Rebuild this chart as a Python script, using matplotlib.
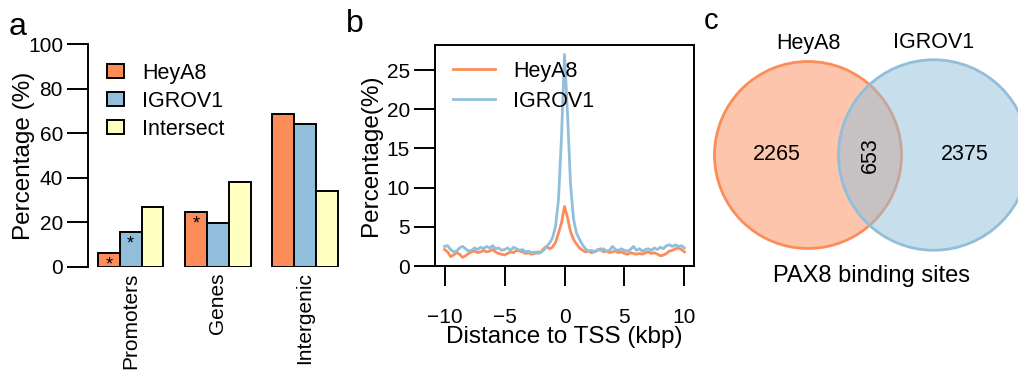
import numpy as np
import matplotlib
matplotlib.use("Agg")
import matplotlib.pyplot as plt
from matplotlib.patches import Circle

plt.rcParams['font.family'] = ['Liberation Sans', 'DejaVu Sans']

# ---------------- data ----------------
regions = ["Promoters", "Genes", "Intergenic"]
series_names = ["HeyA8", "IGROV1", "Intersect"]
heya8_pct = [6.3, 24.8, 68.5]
igrov1_pct = [15.7, 19.6, 64.2]
intersect_pct = [27.0, 38.2, 34.0]
# significance marks (series index, region index)
star_marks = [(0, 0), (1, 0), (0, 1)]

# TSS profile (x from -10 to 10 kbp, 0.25 kbp steps)
tss_heya8 = [2.1, 1.8, 1.2, 1.4, 1.7, 1.5, 1.1, 1.3, 1.6, 1.8, 1.9, 1.7, 1.8, 2.0, 1.8, 1.9,
             2.1, 1.8, 1.6, 1.5, 1.4, 1.6, 1.8, 1.7, 2.0, 1.9, 1.8, 1.6, 1.7, 1.5, 1.6, 1.8,
             1.7, 2.2, 2.5, 2.2, 2.4, 3.0, 4.2, 5.5, 7.6, 6.2, 4.4, 3.4, 2.8, 2.3, 2.0, 1.8,
             1.9, 1.7, 1.8, 2.0, 2.2, 1.8, 1.9, 1.7, 1.8, 1.9, 1.7, 1.8, 1.6, 1.5, 1.7, 1.6,
             1.5, 1.6, 1.5, 1.7, 1.8, 1.6, 1.7, 1.5, 1.3, 1.4, 1.6, 1.9, 2.0, 2.2, 2.3, 2.1,
             1.8]
tss_igrov1 = [2.5, 2.6, 2.1, 1.8, 1.9, 2.3, 2.5, 2.2, 1.9, 2.0, 2.3, 2.1, 2.4, 2.2, 2.5, 2.3,
              2.6, 2.2, 2.3, 2.0, 2.1, 2.3, 2.0, 2.4, 2.2, 2.0, 2.1, 1.8, 1.9, 1.7, 1.8, 1.6,
              1.7, 2.0, 2.5, 2.9, 3.6, 5.0, 8.5, 16.5, 27.0, 19.5, 10.5, 6.0, 4.2, 3.4, 2.7, 2.2,
              1.9, 2.0, 1.8, 2.1, 2.0, 2.2, 1.9, 2.0, 2.5, 2.1, 2.0, 2.2, 2.0, 1.9, 2.1, 2.5,
              2.0, 2.2, 1.9, 2.1, 2.2, 2.0, 2.3, 2.1, 2.4, 2.2, 2.6, 2.7, 2.5, 2.7, 2.5, 2.6,
              2.3]
tss_x = np.linspace(-10, 10, len(tss_heya8))

# Venn
venn_names = ["HeyA8", "IGROV1"]
venn_only = [2265, 2375]
venn_both = 653
venn_title = "PAX8 binding sites"

# ---------------- style ----------------
c_orange = "#FC8D59"
c_blue = "#91BFDB"
c_yellow = "#FFFFBF"
bar_colors = [c_orange, c_blue, c_yellow]
W, H = 1018, 371
tick_fs = 15
lab_fs = 17.5
leg_fs = 15.5
lw = 1.4

fig = plt.figure(figsize=(W / 100, H / 100), dpi=100)

def fbox(l, t, r, b):
    return [l / W, 1 - b / H, (r - l) / W, (b - t) / H]

# ---------------- panel a ----------------
ax = fig.add_axes(fbox(88, 44, 340, 267))
vals = [heya8_pct, igrov1_pct, intersect_pct]
n_s = len(vals)
bars = []
for s in range(n_s):
    xs = [g * (n_s + 1) + 1 + s + 0.5 for g in range(len(regions))]
    ax.bar(xs, vals[s], width=1.0, color=bar_colors[s], edgecolor="black",
           linewidth=lw, label=series_names[s])
    bars.append(xs)
for s, g in star_marks:
    ax.annotate("*", xy=(bars[s][g], vals[s][g]), xytext=(0, -8.5),
                textcoords="offset points", ha="center", va="center", fontsize=13)
ax.set_xlim(0.543, 12.1)
ax.set_ylim(0, 100)
for sp in ["top", "right", "bottom"]:
    ax.spines[sp].set_visible(False)
ax.spines["left"].set_linewidth(lw)
ax.set_yticks([0, 20, 40, 60, 80, 100])
ax.tick_params(axis="y", length=15, width=lw, labelsize=tick_fs, pad=3)
ax.set_xticks([bars[1][g] for g in range(len(regions))])
ax.set_xticklabels(regions, rotation=90, fontsize=tick_fs, va="top")
ax.tick_params(axis="x", length=0, pad=4)
ax.set_ylabel("Percentage (%)", fontsize=lab_fs)
ax.yaxis.set_label_coords(-0.21, 0.5)
ax.legend(loc="upper left", bbox_to_anchor=((107 - 88) / 252, (267 - 63) / 223),
          frameon=False, fontsize=leg_fs, handlelength=0.78, handleheight=0.62,
          handletextpad=0.85, labelspacing=0.32, borderpad=0, borderaxespad=0)
fig.text(18 / W, 1 - 27 / H, "a", fontsize=23, ha="center", va="center")

# ---------------- panel b ----------------
bx = fig.add_axes(fbox(435, 45, 694, 266))
bx.plot(tss_x, tss_heya8, color=c_orange, lw=2.0, label="HeyA8")
bx.plot(tss_x, tss_igrov1, color=c_blue, lw=2.0, label="IGROV1")
bx.set_xlim(-10.8, 10.8)
bx.set_ylim(0, 28.2)
for sp in bx.spines.values():
    sp.set_linewidth(lw)
bx.set_xticks([-10, -5, 0, 5, 10])
bx.set_yticks([0, 5, 10, 15, 20, 25])
bx.tick_params(axis="y", length=15, width=lw, labelsize=tick_fs, pad=3)
bx.tick_params(axis="x", length=14.5, width=lw, labelsize=tick_fs, pad=15.5)
bx.set_ylabel("Percentage(%)", fontsize=lab_fs)
bx.yaxis.set_label_coords(-0.205, 0.5)
bx.set_xlabel("Distance to TSS (kbp)", fontsize=lab_fs)
bx.xaxis.set_label_coords(0.5, -0.27)
bx.legend(loc="upper left", bbox_to_anchor=((453 - 435) / 259, (266 - 61) / 221),
          frameon=False, fontsize=leg_fs, handlelength=1.95, handletextpad=0.85,
          labelspacing=0.4, borderpad=0, borderaxespad=0)
fig.text(355 / W, 1 - 24 / H, "b", fontsize=23, ha="center", va="center")

# ---------------- panel c ----------------
cx = fig.add_axes([700 / W, 0, (W - 700) / W, 1])
cx.set_xlim(700, W)
cx.set_ylim(H, 0)
cx.axis("off")

sizes = [venn_only[0] + venn_both, venn_only[1] + venn_both]
r1_px = 93.5
k = r1_px / np.sqrt(sizes[0])
r1, r2 = r1_px, k * np.sqrt(sizes[1])

def lens_area(d, a, b):
    d1 = (d * d + a * a - b * b) / (2 * d)
    d2 = d - d1
    return (a * a * np.arccos(d1 / a) - d1 * np.sqrt(a * a - d1 * d1)
            + b * b * np.arccos(d2 / b) - d2 * np.sqrt(b * b - d2 * d2))

target_area = np.pi * k * k * venn_both
lo, hi = abs(r1 - r2) + 1e-6, r1 + r2 - 1e-6
for _ in range(80):
    mid = 0.5 * (lo + hi)
    if lens_area(mid, r1, r2) > target_area:
        lo = mid
    else:
        hi = mid
dist = 0.5 * (lo + hi)

c1 = (808.0, 155.0)
c2 = (c1[0] + dist, 155.0)
cx.add_patch(Circle(c1, r1, facecolor=(252 / 255, 141 / 255, 89 / 255, 0.5),
                    edgecolor=c_orange, linewidth=2.0))
cx.add_patch(Circle(c2, r2, facecolor=(145 / 255, 191 / 255, 219 / 255, 0.5),
                    edgecolor=c_blue, linewidth=2.0))
left1, right1 = c1[0] - r1, c1[0] + r1
left2, right2 = c2[0] - r2, c2[0] + r2
cx.text((left1 + left2) / 2, c1[1], f"{venn_only[0]}", fontsize=leg_fs, ha="center", va="center")
cx.text((left2 + right1) / 2, c1[1], f"{venn_both}", fontsize=leg_fs, ha="center",
        va="center", rotation=90)
cx.text((right1 + right2) / 2, c1[1], f"{venn_only[1]}", fontsize=leg_fs, ha="center", va="center")
cx.text(c1[0], 43, venn_names[0], fontsize=leg_fs, ha="center", va="center")
cx.text(c2[0], 43, venn_names[1], fontsize=leg_fs, ha="center", va="center")
cx.text((left1 + right2) / 2, 276, venn_title, fontsize=17, ha="center", va="center")
fig.text(711 / W, 1 - 21 / H, "c", fontsize=21, ha="center", va="center")

fig.savefig("out.png", dpi=100)
